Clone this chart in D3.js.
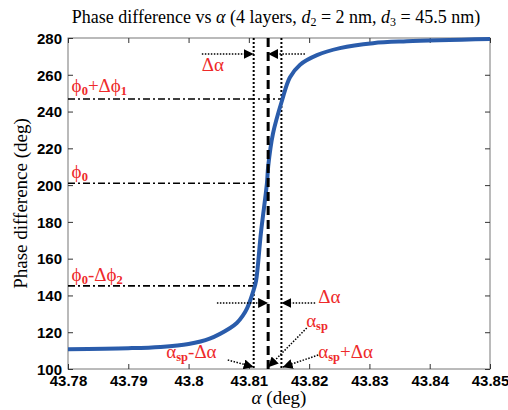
<!DOCTYPE html>
<html lang="en">
<head>
  <meta charset="UTF-8">
  <title>Phase difference vs alpha</title>
  <script src="https://d3js.org/d3.v7.min.js"></script>
  <style>
    body { margin: 0; background: #fff; }
  </style>
</head>
<body>
  <div id="chart"></div>
  <script>
    // curve
    const alpha = [43.78, 43.79, 43.7953, 43.80, 43.8035, 43.8069, 43.8080, 43.8090, 43.8097, 43.8103, 43.8108, 43.8112,
      43.8120, 43.8130, 43.8132, 43.8140, 43.8155, 43.8168, 43.8185, 43.8213, 43.8251, 43.8306, 43.8362, 43.85];
    const phase = [110.8, 111.3, 112, 113.6, 116.5, 122.3, 125, 129, 133, 138, 143, 148,
      174, 201, 210, 228, 246, 258.5, 265.5, 270.7, 274.5, 277.2, 278.2, 279.4];

    const xTicks = [43.78, 43.79, 43.8, 43.81, 43.82, 43.83, 43.84, 43.85];
    const yTicks = [100, 120, 140, 160, 180, 200, 220, 240, 260, 280];

    // marker lines
    const vDotted = [43.8108, 43.8154];
    const vDashed = 43.8132;
    const hLines = [{v: 246.8, to: 43.8154}, {v: 201, to: 43.8108}, {v: 145.2, to: 43.8108}];

    // arrows [x1, y1, x2, y2] in data units
    const arrows = [
      [43.8022, 271.3, 43.8108, 271.3],
      [43.8193, 271.3, 43.8132, 271.3],
      [43.8047, 135.9, 43.8132, 135.9],
      [43.8210, 135.9, 43.8154, 135.9],
      [43.8065, 104.9, 43.8108, 101.1],
      [43.8196, 122.3, 43.8132, 101.0],
      [43.8215, 107.6, 43.8156, 101.0]
    ];

    const serif = "'Liberation Serif', 'Times New Roman', serif";
    const sans = "'Liberation Sans', Arial, sans-serif";

    const margin = {top: 38, right: 18, bottom: 41, left: 68},
      width = 508 - margin.left - margin.right,
      height = 410 - margin.top - margin.bottom;

    const root = d3.select("#chart").append("svg")
      .attr("width", 508).attr("height", 410);

    root.append("defs").append("marker")
      .attr("id", "head")
      .attr("viewBox", "0 0 10 10")
      .attr("refX", 10).attr("refY", 5)
      .attr("markerWidth", 10).attr("markerHeight", 10)
      .attr("markerUnits", "userSpaceOnUse")
      .attr("orient", "auto")
      .append("path").attr("d", "M0,0L10,5L0,10z").attr("fill", "#000");

    const svg = root.append("g")
      .attr("transform", "translate(" + margin.left + "," + margin.top + ")");

    const x = d3.scaleLinear().domain([43.78, 43.85]).range([0, width]);
    const y = d3.scaleLinear().domain([100, 280]).range([height, 0]);

    svg.append("rect").attr("width", width).attr("height", height)
      .attr("fill", "none").attr("stroke", "#777").attr("stroke-width", 1);

    const axB = svg.append("g").attr("transform", "translate(0," + height + ")")
      .call(d3.axisBottom(x).tickValues(xTicks).tickSizeInner(-5).tickSizeOuter(0).tickPadding(6).tickFormat(d3.format("")));
    const axT = svg.append("g")
      .call(d3.axisTop(x).tickValues(xTicks).tickSizeInner(-5).tickSizeOuter(0).tickFormat(""));
    const axL = svg.append("g")
      .call(d3.axisLeft(y).tickValues(yTicks).tickSizeInner(-5).tickSizeOuter(0).tickPadding(6));
    const axR = svg.append("g").attr("transform", "translate(" + width + ",0)")
      .call(d3.axisRight(y).tickValues(yTicks).tickSizeInner(-5).tickSizeOuter(0).tickFormat(""));
    [axB, axT, axL, axR].forEach(a => {
      a.select(".domain").remove();
      a.selectAll("line").attr("stroke", "#333");
      a.selectAll("text").attr("fill", "#000")
        .attr("font-family", sans).attr("font-size", 15).attr("font-weight", "bold");
    });
    axB.selectAll("text").attr("dy", "0.71em");
    axL.selectAll("text").attr("dy", "0.35em");

    // horizontal dash-dot lines
    svg.selectAll(".hl").data(hLines).enter().append("line")
      .attr("x1", 0).attr("x2", d => x(d.to))
      .attr("y1", d => y(d.v)).attr("y2", d => y(d.v))
      .attr("stroke", "#000").attr("stroke-width", 1.6)
      .attr("stroke-dasharray", "7,3,2,3");

    // vertical lines
    svg.selectAll(".vd").data(vDotted).enter().append("line")
      .attr("x1", d => x(d)).attr("x2", d => x(d))
      .attr("y1", 0).attr("y2", height)
      .attr("stroke", "#000").attr("stroke-width", 2)
      .attr("stroke-dasharray", "2,2");

    // curve
    svg.append("path")
      .datum(alpha.map((a, i) => [a, phase[i]]))
      .attr("fill", "none")
      .attr("stroke", "#2a5cab")
      .attr("stroke-width", 4)
      .attr("d", d3.line().x(d => x(d[0])).y(d => y(d[1])).curve(d3.curveCatmullRom.alpha(0.5)));

    svg.append("line")
      .attr("x1", x(vDashed)).attr("x2", x(vDashed))
      .attr("y1", 0).attr("y2", height)
      .attr("stroke", "#000").attr("stroke-width", 3)
      .attr("stroke-dasharray", "9,5");

    // arrows
    svg.selectAll(".ar").data(arrows).enter().append("line")
      .attr("x1", d => x(d[0])).attr("y1", d => y(d[1]))
      .attr("x2", d => x(d[2])).attr("y2", d => y(d[3]))
      .attr("stroke", "#000").attr("stroke-width", 1.5)
      .attr("stroke-dasharray", "1.5,1.5")
      .attr("marker-end", "url(#head)");

    // red labels
    function label(ax, ay, parts) {
      const t = svg.append("text")
        .attr("fill", "#ee2a2a").attr("font-family", serif).attr("font-size", 19)
        .attr("x", x(ax)).attr("y", y(ay));
      parts.forEach(p => {
        const s = t.append("tspan").text(p[0]);
        if (p[1] === "sub") s.attr("font-size", 12.5).attr("font-weight", "bold").attr("dy", 3);
        else if (p[1] === "up") s.attr("dy", -3);
      });
    }
    label(43.8022, 262, [["Δα"]]);
    label(43.7806, 250.6, [["ϕ"], ["0", "sub"], ["+Δϕ", "up"], ["1", "sub"]]);
    label(43.7806, 203.9, [["ϕ"], ["0", "sub"]]);
    label(43.7806, 147.9, [["ϕ"], ["0", "sub"], ["-Δϕ", "up"], ["2", "sub"]]);
    label(43.8215, 135.9, [["Δα"]]);
    label(43.8195, 122.8, [["α"], ["sp", "sub"]]);
    label(43.8215, 106, [["α"], ["sp", "sub"], ["+Δα", "up"]]);
    label(43.7963, 106, [["α"], ["sp", "sub"], ["-Δα", "up"]]);

    // titles
    const title = root.append("text").attr("font-family", serif)
      .attr("x", 276).attr("y", 23).attr("text-anchor", "middle")
      .attr("font-size", 18);
    title.append("tspan").text("Phase difference vs ");
    title.append("tspan").attr("font-style", "italic").text("α");
    title.append("tspan").text(" (4 layers, ");
    title.append("tspan").attr("font-style", "italic").text("d");
    title.append("tspan").attr("font-size", 12).attr("dy", 3).text("2");
    title.append("tspan").attr("dy", -3).text(" = 2 nm, ");
    title.append("tspan").attr("font-style", "italic").text("d");
    title.append("tspan").attr("font-size", 12).attr("dy", 3).text("3");
    title.append("tspan").attr("dy", -3).text(" = 45.5 nm)");

    const xl = root.append("text").attr("font-family", serif)
      .attr("x", 279).attr("y", 404).attr("text-anchor", "middle")
      .attr("font-size", 19);
    xl.append("tspan").attr("font-style", "italic").text("α");
    xl.append("tspan").text(" (deg)");

    root.append("text").attr("font-family", serif)
      .attr("transform", "translate(27," + (margin.top + height / 2) + ") rotate(-90)")
      .attr("text-anchor", "middle")
      .attr("font-size", 19)
      .text("Phase difference (deg)");
  </script>
</body>
</html>
